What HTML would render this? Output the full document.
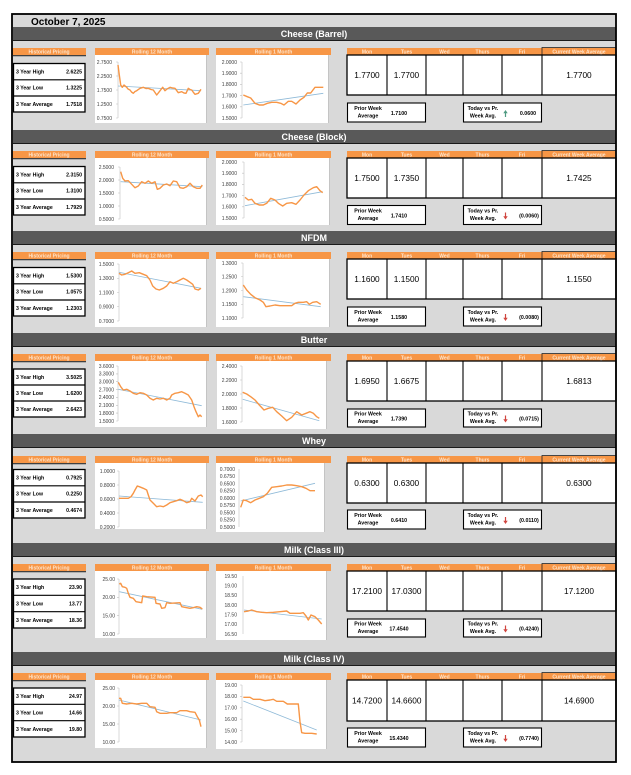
<!DOCTYPE html>
<html><head><meta charset="utf-8"><style>
html,body{margin:0;padding:0;background:#fff;}
svg{display:block;font-family:"Liberation Sans",sans-serif;}
.ttl{font-size:9px;font-weight:bold;fill:#fff;text-anchor:middle;}
.oh{font-size:5px;font-weight:bold;fill:#fde4cc;text-anchor:middle;}
.hl{font-size:5.2px;font-weight:bold;fill:#000;}
.hv{font-size:5.2px;font-weight:bold;fill:#000;text-anchor:end;}
.v{font-size:8.3px;fill:#000;text-anchor:middle;}
.s{font-size:5.3px;font-weight:bold;fill:#000;text-anchor:middle;}
.ax{font-size:5px;fill:#404040;text-anchor:end;}
.o{fill:none;stroke:#f79646;stroke-width:1.4;stroke-linejoin:round;}
.t{fill:none;stroke:#8fbad8;stroke-width:0.8;}
.al{stroke:#bfbfbf;stroke-width:0.6;}
</style></head><body>
<svg width="631" height="775" viewBox="0 0 631 775" xmlns="http://www.w3.org/2000/svg">
<rect x="0" y="0" width="631" height="775" fill="#fff"/>
<rect x="12" y="14" width="604" height="748" fill="#d9d9d9"/>
<text x="31" y="25" font-size="10" font-weight="bold" fill="#000">October 7, 2025</text>

<!-- S1 Cheese Barrel -->
<g transform="translate(0,27)">
<rect x="13" y="0" width="603" height="13" fill="#595959"/><rect x="13" y="13" width="603" height="1" fill="#1a1a1a"/>
<text x="314" y="10" class="ttl">Cheese (Barrel)</text>
<rect x="12" y="21" width="74" height="7" fill="#f79646"/><text x="49" y="26.3" class="oh">Historical Pricing</text>
<rect x="13" y="28.3" width="73" height="0.9" fill="#000"/>
<rect x="13.5" y="36.5" width="71.5" height="48.5" fill="#fff" stroke="#000" stroke-width="1.3"/>
<line x1="13.5" y1="52.8" x2="85" y2="52.8" stroke="#000" stroke-width="1.2"/><line x1="13.5" y1="69" x2="85" y2="69" stroke="#000" stroke-width="1.2"/>
<text x="16" y="46.5" class="hl">3 Year High</text><text x="82" y="46.5" class="hv">2.6225</text>
<text x="16" y="62.7" class="hl">3 Year Low</text><text x="82" y="62.7" class="hv">1.3225</text>
<text x="16" y="78.9" class="hl">3 Year Average</text><text x="82" y="78.9" class="hv">1.7518</text>
<rect x="95" y="21" width="114" height="7" fill="#f79646"/><text x="152" y="26.3" class="oh">Rolling 12 Month</text>
<rect x="95" y="28" width="111" height="68" fill="#fff"/><rect x="206" y="28" width="1" height="68" fill="#c4c4c4"/>
<rect x="216" y="21" width="115" height="7" fill="#f79646"/><text x="273.5" y="26.3" class="oh">Rolling 1 Month</text>
<rect x="216" y="28" width="112" height="68" fill="#fff"/><rect x="328" y="28" width="1" height="68" fill="#c4c4c4"/>
<rect x="347" y="21" width="269" height="7" fill="#f79646"/>
<text x="367" y="26.3" class="oh">Mon</text><text x="406.5" y="26.3" class="oh">Tues</text><text x="444.5" y="26.3" class="oh">Wed</text><text x="482.5" y="26.3" class="oh">Thurs</text><text x="522" y="26.3" class="oh">Fri</text><text x="579" y="26.3" class="oh">Current Week Average</text>
<rect x="542" y="20.5" width="74" height="7.5" fill="none" stroke="#222" stroke-width="0.8"/>
<rect x="347" y="28" width="269" height="40" fill="#fff" stroke="#000" stroke-width="1.3"/>
<path d="M387 28V68M426 28V68M463 28V68M502 28V68M542 28V68" stroke="#000" stroke-width="1.1"/>
<text x="367" y="51" class="v">1.7700</text><text x="406.5" y="51" class="v">1.7700</text><text x="579" y="51" class="v">1.7700</text>
<rect x="347.5" y="76" width="78" height="19" fill="#fff" stroke="#000" stroke-width="1.1"/>
<text x="368" y="82.8" class="s">Prior Week</text><text x="368" y="90.6" class="s">Average</text><text x="399" y="88" class="s">1.7100</text>
<rect x="463.5" y="76" width="78" height="19" fill="#fff" stroke="#000" stroke-width="1.1"/>
<text x="483" y="82.8" class="s">Today vs Pr.</text><text x="483" y="90.6" class="s">Week Avg.</text>
<path d="M503.3 86.3L505.5 83L507.7 86.3H506.1V90H504.9V86.3Z" fill="#4e9a81"/>
<text x="528" y="88" class="s">0.0600</text>
</g>

<!-- S2 Cheese Block -->
<g transform="translate(0,130)">
<rect x="13" y="0" width="603" height="13" fill="#595959"/><rect x="13" y="13" width="603" height="1" fill="#1a1a1a"/>
<text x="314" y="10" class="ttl">Cheese (Block)</text>
<rect x="12" y="21" width="74" height="7" fill="#f79646"/><text x="49" y="26.3" class="oh">Historical Pricing</text>
<rect x="13" y="28.3" width="73" height="0.9" fill="#000"/>
<rect x="13.5" y="36.5" width="71.5" height="48.5" fill="#fff" stroke="#000" stroke-width="1.3"/>
<line x1="13.5" y1="52.8" x2="85" y2="52.8" stroke="#000" stroke-width="1.2"/><line x1="13.5" y1="69" x2="85" y2="69" stroke="#000" stroke-width="1.2"/>
<text x="16" y="46.5" class="hl">3 Year High</text><text x="82" y="46.5" class="hv">2.3150</text>
<text x="16" y="62.7" class="hl">3 Year Low</text><text x="82" y="62.7" class="hv">1.3100</text>
<text x="16" y="78.9" class="hl">3 Year Average</text><text x="82" y="78.9" class="hv">1.7929</text>
<rect x="95" y="21" width="114" height="7" fill="#f79646"/><text x="152" y="26.3" class="oh">Rolling 12 Month</text>
<rect x="95" y="28" width="111" height="67" fill="#fff"/><rect x="206" y="28" width="1" height="67" fill="#c4c4c4"/>
<rect x="216" y="21" width="115" height="7" fill="#f79646"/><text x="273.5" y="26.3" class="oh">Rolling 1 Month</text>
<rect x="216" y="28" width="113" height="67" fill="#fff"/><rect x="329" y="28" width="1" height="67" fill="#c4c4c4"/>
<rect x="347" y="21" width="269" height="7" fill="#f79646"/>
<text x="367" y="26.3" class="oh">Mon</text><text x="406.5" y="26.3" class="oh">Tues</text><text x="444.5" y="26.3" class="oh">Wed</text><text x="482.5" y="26.3" class="oh">Thurs</text><text x="522" y="26.3" class="oh">Fri</text><text x="579" y="26.3" class="oh">Current Week Average</text>
<rect x="542" y="20.5" width="74" height="7.5" fill="none" stroke="#222" stroke-width="0.8"/>
<rect x="347" y="28" width="269" height="40" fill="#fff" stroke="#000" stroke-width="1.3"/>
<path d="M387 28V68M426 28V68M463 28V68M502 28V68M542 28V68" stroke="#000" stroke-width="1.1"/>
<text x="367" y="51" class="v">1.7500</text><text x="406.5" y="51" class="v">1.7350</text><text x="579" y="51" class="v">1.7425</text>
<rect x="347.5" y="75.5" width="78" height="19" fill="#fff" stroke="#000" stroke-width="1.1"/>
<text x="368" y="82.3" class="s">Prior Week</text><text x="368" y="90.1" class="s">Average</text><text x="399" y="87.5" class="s">1.7410</text>
<rect x="463.5" y="75.5" width="78" height="19" fill="#fff" stroke="#000" stroke-width="1.1"/>
<text x="483" y="82.3" class="s">Today vs Pr.</text><text x="483" y="90.1" class="s">Week Avg.</text>
<path d="M504.9 82.5H506.1V86.3H507.7L505.5 89.5L503.3 86.3H504.9Z" fill="#d0453f"/>
<text x="529" y="87.5" class="s">(0.0060)</text>
</g>

<!-- S3 NFDM -->
<g transform="translate(0,231)">
<rect x="13" y="0" width="603" height="13" fill="#595959"/><rect x="13" y="13" width="603" height="1" fill="#1a1a1a"/>
<text x="314" y="10" class="ttl">NFDM</text>
<rect x="12" y="21" width="74" height="7" fill="#f79646"/><text x="49" y="26.3" class="oh">Historical Pricing</text>
<rect x="13" y="28.3" width="73" height="0.9" fill="#000"/>
<rect x="13.5" y="36.5" width="71.5" height="48.5" fill="#fff" stroke="#000" stroke-width="1.3"/>
<line x1="13.5" y1="52.8" x2="85" y2="52.8" stroke="#000" stroke-width="1.2"/><line x1="13.5" y1="69" x2="85" y2="69" stroke="#000" stroke-width="1.2"/>
<text x="16" y="46.5" class="hl">3 Year High</text><text x="82" y="46.5" class="hv">1.5300</text>
<text x="16" y="62.7" class="hl">3 Year Low</text><text x="82" y="62.7" class="hv">1.0575</text>
<text x="16" y="78.9" class="hl">3 Year Average</text><text x="82" y="78.9" class="hv">1.2303</text>
<rect x="95" y="21" width="114" height="7" fill="#f79646"/><text x="152" y="26.3" class="oh">Rolling 12 Month</text>
<rect x="95" y="28" width="111" height="68" fill="#fff"/><rect x="206" y="28" width="1" height="68" fill="#c4c4c4"/>
<rect x="216" y="21" width="115" height="7" fill="#f79646"/><text x="273.5" y="26.3" class="oh">Rolling 1 Month</text>
<rect x="216" y="28" width="113" height="68" fill="#fff"/><rect x="329" y="28" width="1" height="68" fill="#c4c4c4"/>
<rect x="347" y="21" width="269" height="7" fill="#f79646"/>
<text x="367" y="26.3" class="oh">Mon</text><text x="406.5" y="26.3" class="oh">Tues</text><text x="444.5" y="26.3" class="oh">Wed</text><text x="482.5" y="26.3" class="oh">Thurs</text><text x="522" y="26.3" class="oh">Fri</text><text x="579" y="26.3" class="oh">Current Week Average</text>
<rect x="542" y="20.5" width="74" height="7.5" fill="none" stroke="#222" stroke-width="0.8"/>
<rect x="347" y="28" width="269" height="40" fill="#fff" stroke="#000" stroke-width="1.3"/>
<path d="M387 28V68M426 28V68M463 28V68M502 28V68M542 28V68" stroke="#000" stroke-width="1.1"/>
<text x="367" y="51" class="v">1.1600</text><text x="406.5" y="51" class="v">1.1500</text><text x="579" y="51" class="v">1.1550</text>
<rect x="347.5" y="76" width="78" height="19" fill="#fff" stroke="#000" stroke-width="1.1"/>
<text x="368" y="82.8" class="s">Prior Week</text><text x="368" y="90.6" class="s">Average</text><text x="399" y="88" class="s">1.1580</text>
<rect x="463.5" y="76" width="78" height="19" fill="#fff" stroke="#000" stroke-width="1.1"/>
<text x="483" y="82.8" class="s">Today vs Pr.</text><text x="483" y="90.6" class="s">Week Avg.</text>
<path d="M504.9 83H506.1V86.8H507.7L505.5 90L503.3 86.8H504.9Z" fill="#d0453f"/>
<text x="529" y="88" class="s">(0.0080)</text>
</g>

<!-- S4 Butter -->
<g transform="translate(0,333)">
<rect x="13" y="0" width="603" height="13" fill="#595959"/><rect x="13" y="13" width="603" height="1" fill="#1a1a1a"/>
<text x="314" y="10" class="ttl">Butter</text>
<rect x="12" y="21" width="74" height="7" fill="#f79646"/><text x="49" y="26.3" class="oh">Historical Pricing</text>
<rect x="13" y="28.3" width="73" height="0.9" fill="#000"/>
<rect x="13.5" y="36" width="71.5" height="48" fill="#fff" stroke="#000" stroke-width="1.3"/>
<line x1="13.5" y1="52" x2="85" y2="52" stroke="#000" stroke-width="1.2"/><line x1="13.5" y1="68" x2="85" y2="68" stroke="#000" stroke-width="1.2"/>
<text x="16" y="45.8" class="hl">3 Year High</text><text x="82" y="45.8" class="hv">3.5025</text>
<text x="16" y="61.8" class="hl">3 Year Low</text><text x="82" y="61.8" class="hv">1.6200</text>
<text x="16" y="77.8" class="hl">3 Year Average</text><text x="82" y="77.8" class="hv">2.6423</text>
<rect x="95" y="21" width="114" height="7" fill="#f79646"/><text x="152" y="26.3" class="oh">Rolling 12 Month</text>
<rect x="95" y="28" width="111" height="66" fill="#fff"/><rect x="206" y="28" width="1" height="66" fill="#c4c4c4"/>
<rect x="216" y="21" width="115" height="7" fill="#f79646"/><text x="273.5" y="26.3" class="oh">Rolling 1 Month</text>
<rect x="217" y="28" width="109" height="68" fill="#fff"/><rect x="326" y="28" width="1" height="68" fill="#c4c4c4"/>
<rect x="347" y="21" width="269" height="7" fill="#f79646"/>
<text x="367" y="26.3" class="oh">Mon</text><text x="406.5" y="26.3" class="oh">Tues</text><text x="444.5" y="26.3" class="oh">Wed</text><text x="482.5" y="26.3" class="oh">Thurs</text><text x="522" y="26.3" class="oh">Fri</text><text x="579" y="26.3" class="oh">Current Week Average</text>
<rect x="542" y="20.5" width="74" height="7.5" fill="none" stroke="#222" stroke-width="0.8"/>
<rect x="347" y="28" width="269" height="40" fill="#fff" stroke="#000" stroke-width="1.3"/>
<path d="M387 28V68M426 28V68M463 28V68M502 28V68M542 28V68" stroke="#000" stroke-width="1.1"/>
<text x="367" y="51" class="v">1.6950</text><text x="406.5" y="51" class="v">1.6675</text><text x="579" y="51" class="v">1.6813</text>
<rect x="347.5" y="76" width="78" height="18" fill="#fff" stroke="#000" stroke-width="1.1"/>
<text x="368" y="82.5" class="s">Prior Week</text><text x="368" y="90" class="s">Average</text><text x="399" y="87.5" class="s">1.7390</text>
<rect x="463.5" y="76" width="78" height="18" fill="#fff" stroke="#000" stroke-width="1.1"/>
<text x="483" y="82.5" class="s">Today vs Pr.</text><text x="483" y="90" class="s">Week Avg.</text>
<path d="M504.9 82.5H506.1V86.3H507.7L505.5 89.5L503.3 86.3H504.9Z" fill="#d0453f"/>
<text x="529" y="87.5" class="s">(0.0715)</text>
</g>

<!-- S5 Whey -->
<g transform="translate(0,434)">
<rect x="13" y="0" width="603" height="13" fill="#595959"/><rect x="13" y="13" width="603" height="1" fill="#1a1a1a"/>
<text x="314" y="10" class="ttl">Whey</text>
<rect x="12" y="22" width="74" height="7" fill="#f79646"/><text x="49" y="27.3" class="oh">Historical Pricing</text>
<rect x="13" y="29.3" width="73" height="0.9" fill="#000"/>
<rect x="13.5" y="35.5" width="71.5" height="48.5" fill="#fff" stroke="#000" stroke-width="1.3"/>
<line x1="13.5" y1="51.8" x2="85" y2="51.8" stroke="#000" stroke-width="1.2"/><line x1="13.5" y1="68" x2="85" y2="68" stroke="#000" stroke-width="1.2"/>
<text x="16" y="45.5" class="hl">3 Year High</text><text x="82" y="45.5" class="hv">0.7925</text>
<text x="16" y="61.7" class="hl">3 Year Low</text><text x="82" y="61.7" class="hv">0.2250</text>
<text x="16" y="77.9" class="hl">3 Year Average</text><text x="82" y="77.9" class="hv">0.4674</text>
<rect x="95" y="22" width="114" height="7" fill="#f79646"/><text x="152" y="27.3" class="oh">Rolling 12 Month</text>
<rect x="95" y="29" width="111" height="66" fill="#fff"/><rect x="206" y="29" width="1" height="66" fill="#c4c4c4"/>
<rect x="216" y="22" width="115" height="7" fill="#f79646"/><text x="273.5" y="27.3" class="oh">Rolling 1 Month</text>
<rect x="216" y="29" width="108" height="69" fill="#fff"/><rect x="324" y="29" width="1" height="69" fill="#c4c4c4"/>
<rect x="347" y="22" width="269" height="7" fill="#f79646"/>
<text x="367" y="27.3" class="oh">Mon</text><text x="406.5" y="27.3" class="oh">Tues</text><text x="444.5" y="27.3" class="oh">Wed</text><text x="482.5" y="27.3" class="oh">Thurs</text><text x="522" y="27.3" class="oh">Fri</text><text x="579" y="27.3" class="oh">Current Week Average</text>
<rect x="542" y="21.5" width="74" height="7.5" fill="none" stroke="#222" stroke-width="0.8"/>
<rect x="347" y="29" width="269" height="40" fill="#fff" stroke="#000" stroke-width="1.3"/>
<path d="M387 29V69M426 29V69M463 29V69M502 29V69M542 29V69" stroke="#000" stroke-width="1.1"/>
<text x="367" y="52" class="v">0.6300</text><text x="406.5" y="52" class="v">0.6300</text><text x="579" y="52" class="v">0.6300</text>
<rect x="347.5" y="76" width="78" height="19" fill="#fff" stroke="#000" stroke-width="1.1"/>
<text x="368" y="82.8" class="s">Prior Week</text><text x="368" y="90.6" class="s">Average</text><text x="399" y="88" class="s">0.6410</text>
<rect x="463.5" y="76" width="78" height="19" fill="#fff" stroke="#000" stroke-width="1.1"/>
<text x="483" y="82.8" class="s">Today vs Pr.</text><text x="483" y="90.6" class="s">Week Avg.</text>
<path d="M504.9 83H506.1V86.8H507.7L505.5 90L503.3 86.8H504.9Z" fill="#d0453f"/>
<text x="529" y="88" class="s">(0.0110)</text>
</g>

<!-- S6 Milk III -->
<g transform="translate(0,543)">
<rect x="13" y="0" width="603" height="13" fill="#595959"/><rect x="13" y="13" width="603" height="1" fill="#1a1a1a"/>
<text x="314" y="10" class="ttl">Milk (Class III)</text>
<rect x="12" y="21" width="74" height="7" fill="#f79646"/><text x="49" y="26.3" class="oh">Historical Pricing</text>
<rect x="13" y="28.3" width="73" height="0.9" fill="#000"/>
<rect x="13.5" y="36" width="71.5" height="49" fill="#fff" stroke="#000" stroke-width="1.3"/>
<line x1="13.5" y1="52.3" x2="85" y2="52.3" stroke="#000" stroke-width="1.2"/><line x1="13.5" y1="68.7" x2="85" y2="68.7" stroke="#000" stroke-width="1.2"/>
<text x="16" y="46" class="hl">3 Year High</text><text x="82" y="46" class="hv">23.90</text>
<text x="16" y="62.4" class="hl">3 Year Low</text><text x="82" y="62.4" class="hv">13.77</text>
<text x="16" y="78.8" class="hl">3 Year Average</text><text x="82" y="78.8" class="hv">18.36</text>
<rect x="95" y="21" width="114" height="7" fill="#f79646"/><text x="152" y="26.3" class="oh">Rolling 12 Month</text>
<rect x="95" y="28" width="111" height="67" fill="#fff"/><rect x="206" y="28" width="1" height="67" fill="#c4c4c4"/>
<rect x="216" y="21" width="115" height="7" fill="#f79646"/><text x="273.5" y="26.3" class="oh">Rolling 1 Month</text>
<rect x="216" y="28" width="110" height="69" fill="#fff"/><rect x="326" y="28" width="1" height="69" fill="#c4c4c4"/>
<rect x="347" y="21" width="269" height="7" fill="#f79646"/>
<text x="367" y="26.3" class="oh">Mon</text><text x="406.5" y="26.3" class="oh">Tues</text><text x="444.5" y="26.3" class="oh">Wed</text><text x="482.5" y="26.3" class="oh">Thurs</text><text x="522" y="26.3" class="oh">Fri</text><text x="579" y="26.3" class="oh">Current Week Average</text>
<rect x="542" y="20.5" width="74" height="7.5" fill="none" stroke="#222" stroke-width="0.8"/>
<rect x="347" y="28" width="269" height="40" fill="#fff" stroke="#000" stroke-width="1.3"/>
<path d="M387 28V68M426 28V68M463 28V68M502 28V68M542 28V68" stroke="#000" stroke-width="1.1"/>
<text x="367" y="51" class="v">17.2100</text><text x="406.5" y="51" class="v">17.0300</text><text x="579" y="51" class="v">17.1200</text>
<rect x="347.5" y="76" width="78" height="18" fill="#fff" stroke="#000" stroke-width="1.1"/>
<text x="368" y="82.5" class="s">Prior Week</text><text x="368" y="90" class="s">Average</text><text x="399" y="87.5" class="s">17.4540</text>
<rect x="463.5" y="76" width="78" height="18" fill="#fff" stroke="#000" stroke-width="1.1"/>
<text x="483" y="82.5" class="s">Today vs Pr.</text><text x="483" y="90" class="s">Week Avg.</text>
<path d="M504.9 82.5H506.1V86.3H507.7L505.5 89.5L503.3 86.3H504.9Z" fill="#d0453f"/>
<text x="529" y="87.5" class="s">(0.4240)</text>
</g>

<!-- S7 Milk IV -->
<g transform="translate(0,652)">
<rect x="13" y="0" width="603" height="13" fill="#595959"/><rect x="13" y="13" width="603" height="1" fill="#1a1a1a"/>
<text x="314" y="10" class="ttl">Milk (Class IV)</text>
<rect x="12" y="21" width="74" height="7" fill="#f79646"/><text x="49" y="26.3" class="oh">Historical Pricing</text>
<rect x="13" y="28.3" width="73" height="0.9" fill="#000"/>
<rect x="13.5" y="36" width="71.5" height="49" fill="#fff" stroke="#000" stroke-width="1.3"/>
<line x1="13.5" y1="52.3" x2="85" y2="52.3" stroke="#000" stroke-width="1.2"/><line x1="13.5" y1="68.7" x2="85" y2="68.7" stroke="#000" stroke-width="1.2"/>
<text x="16" y="46" class="hl">3 Year High</text><text x="82" y="46" class="hv">24.97</text>
<text x="16" y="62.4" class="hl">3 Year Low</text><text x="82" y="62.4" class="hv">14.66</text>
<text x="16" y="78.8" class="hl">3 Year Average</text><text x="82" y="78.8" class="hv">19.80</text>
<rect x="95" y="21" width="114" height="7" fill="#f79646"/><text x="152" y="26.3" class="oh">Rolling 12 Month</text>
<rect x="95" y="28" width="111" height="68" fill="#fff"/><rect x="206" y="28" width="1" height="68" fill="#c4c4c4"/>
<rect x="216" y="21" width="115" height="7" fill="#f79646"/><text x="273.5" y="26.3" class="oh">Rolling 1 Month</text>
<rect x="216" y="28" width="110" height="69" fill="#fff"/><rect x="326" y="28" width="1" height="69" fill="#c4c4c4"/>
<rect x="347" y="21" width="269" height="7" fill="#f79646"/>
<text x="367" y="26.3" class="oh">Mon</text><text x="406.5" y="26.3" class="oh">Tues</text><text x="444.5" y="26.3" class="oh">Wed</text><text x="482.5" y="26.3" class="oh">Thurs</text><text x="522" y="26.3" class="oh">Fri</text><text x="579" y="26.3" class="oh">Current Week Average</text>
<rect x="542" y="20.5" width="74" height="7.5" fill="none" stroke="#222" stroke-width="0.8"/>
<rect x="347" y="28" width="269" height="41" fill="#fff" stroke="#000" stroke-width="1.3"/>
<path d="M387 28V69M426 28V69M463 28V69M502 28V69M542 28V69" stroke="#000" stroke-width="1.1"/>
<text x="367" y="51.5" class="v">14.7200</text><text x="406.5" y="51.5" class="v">14.6600</text><text x="579" y="51.5" class="v">14.6900</text>
<rect x="347.5" y="76" width="78" height="19" fill="#fff" stroke="#000" stroke-width="1.1"/>
<text x="368" y="82.8" class="s">Prior Week</text><text x="368" y="90.6" class="s">Average</text><text x="399" y="88" class="s">15.4340</text>
<rect x="463.5" y="76" width="78" height="19" fill="#fff" stroke="#000" stroke-width="1.1"/>
<text x="483" y="82.8" class="s">Today vs Pr.</text><text x="483" y="90.6" class="s">Week Avg.</text>
<path d="M504.9 83H506.1V86.8H507.7L505.5 90L503.3 86.8H504.9Z" fill="#d0453f"/>
<text x="529" y="88" class="s">(0.7740)</text>
</g>

<!-- S1 12M -->
<line x1="118" y1="62" x2="118" y2="118" class="al"/>
<path d="M116 62H118M116 76H118M116 90H118M116 104H118M116 118H118" class="al"/>
<text x="112" y="63.8" class="ax">2.7500</text><text x="112" y="77.8" class="ax">2.2500</text><text x="112" y="91.8" class="ax">1.7500</text><text x="112" y="105.8" class="ax">1.2500</text><text x="112" y="119.8" class="ax">0.7500</text>
<polyline class="t" points="118,86 201,90.7"/>
<polyline class="o" points="118,65 119.3,75 120.7,85 122.3,87.3 124,85 126.7,87.3 128,89 130,90 131.5,92 133.3,93.3 135,91.5 136.7,90.7 140,88.3 143.3,87.3 146,88.5 148.3,88.3 151,89.5 153.3,90 155,92.5 156.7,95 159.3,91.7 161,89.5 162.7,87.3 165,90.7 167,89 170,87.3 172.5,88 175,88.3 178.3,92.7 181.7,91.7 184,93 186,93.3 188.3,88.3 190,89.5 191.7,90 193.5,92.5 195,94.3 198.3,93.3 201,89.3"/>
<!-- S1 1M -->
<line x1="242" y1="62" x2="242" y2="118" class="al"/>
<path d="M240 62H242M240 73.2H242M240 84.4H242M240 95.6H242M240 106.8H242M240 118H242" class="al"/>
<text x="237" y="63.8" class="ax">2.0000</text><text x="237" y="75" class="ax">1.9000</text><text x="237" y="86.2" class="ax">1.8000</text><text x="237" y="97.4" class="ax">1.7000</text><text x="237" y="108.6" class="ax">1.6000</text><text x="237" y="119.8" class="ax">1.5000</text>
<polyline class="t" points="243.3,105 323.3,93.3"/>
<polyline class="o" points="243.3,95 247.3,96.7 250.7,98 255,103.3 259.3,105 263.3,105 267.3,103.3 271.7,102.3 276.7,102.3 280.7,103.3 284,105 288.3,101.3 291.7,101.3 296,104 300,100 304,97.3 307.3,93 310.7,93 315,87.3 319.3,87.3 323.3,87.3"/>

<!-- S2 12M -->
<line x1="120" y1="167" x2="120" y2="219" class="al"/>
<path d="M118 167H120M118 180H120M118 193H120M118 206H120M118 219H120" class="al"/>
<text x="114" y="168.8" class="ax">2.5000</text><text x="114" y="181.8" class="ax">2.0000</text><text x="114" y="194.8" class="ax">1.5000</text><text x="114" y="207.8" class="ax">1.0000</text><text x="114" y="220.8" class="ax">0.5000</text>
<polyline class="t" points="120.7,181.7 202.3,186.7"/>
<polyline class="o" points="120.7,171.7 122.7,178.3 125,181 128.3,180.7 131.7,184.3 135,187.7 138.3,186 141.7,181.7 145,183.3 148.3,181 151.7,183.3 155,181.7 157.3,189.3 160,188.3 163.3,185 166.7,184 170,185.7 173.3,181 176.7,181.7 180,187.7 183.3,188.3 186.7,186.7 190,183.3 193.3,186.7 196.7,188.3 200,188.3 202.3,185"/>
<!-- S2 1M -->
<line x1="244" y1="162" x2="244" y2="218" class="al"/>
<path d="M242 162H244M242 173.2H244M242 184.4H244M242 195.6H244M242 206.8H244M242 218H244" class="al"/>
<text x="237" y="163.8" class="ax">2.0000</text><text x="237" y="175" class="ax">1.9000</text><text x="237" y="186.2" class="ax">1.8000</text><text x="237" y="197.4" class="ax">1.7000</text><text x="237" y="208.6" class="ax">1.6000</text><text x="237" y="219.8" class="ax">1.5000</text>
<polyline class="t" points="245,205.7 322.7,191.7"/>
<polyline class="o" points="245,197.3 248.3,200 251.7,199.3 255,203.3 259.3,205 263.3,205 266.7,203.3 270.7,198.3 275,200 278.3,203.3 282.7,206 286.7,203.3 291.7,202.7 296,204.3 300,200 304,195 308.3,190.7 313.3,187.7 316.7,186.7 320,190.7 322.7,192.7"/>

<!-- S3 12M -->
<line x1="119" y1="264" x2="119" y2="321" class="al"/>
<path d="M117 264H119M117 278.25H119M117 292.5H119M117 306.75H119M117 321H119" class="al"/>
<text x="114" y="265.8" class="ax">1.5000</text><text x="114" y="280" class="ax">1.3000</text><text x="114" y="294.3" class="ax">1.1000</text><text x="114" y="308.5" class="ax">0.9000</text><text x="114" y="322.8" class="ax">0.7000</text>
<polyline class="t" points="119,272.3 201,288.3"/>
<polyline class="o" points="119,273.3 121.7,275 125,274.3 128.3,272.7 131.7,271 135,273.3 139.3,272.7 143.3,274.3 146.7,275.7 150,280 152.7,286 156,289 159.3,290 163.3,288.3 166.7,286 170,281.7 173.3,283.3 176.7,281.7 180,280 183.3,278.3 186.7,280 190,282.3 192.7,284.3 195,289 198.3,290 201,288.3"/>
<!-- S3 1M -->
<line x1="243" y1="263" x2="243" y2="318" class="al"/>
<path d="M241 263H243M241 276.75H243M241 290.5H243M241 304.25H243M241 318H243" class="al"/>
<text x="237" y="264.8" class="ax">1.3000</text><text x="237" y="278.5" class="ax">1.2500</text><text x="237" y="292.3" class="ax">1.2000</text><text x="237" y="306" class="ax">1.1500</text><text x="237" y="319.8" class="ax">1.1000</text>
<polyline class="t" points="243.3,296.7 320.7,306.7"/>
<polyline class="o" points="243.3,285 246.7,290 250.7,294.3 255,297.7 260,300 263.3,302.3 266,306.7 270,306 275,305 280,305.7 286.7,305.7 291.7,305.7 295,303.3 298.3,302.3 303.3,302.3 306.7,301.7 309.3,304.3 312.7,302.3 316.7,301.7 320.7,304.3"/>

<!-- S4 12M -->
<line x1="118" y1="366" x2="118" y2="421" class="al"/>
<path d="M116 366H118M116 373.9H118M116 381.7H118M116 389.6H118M116 397.4H118M116 405.3H118M116 413.1H118M116 421H118" class="al"/>
<text x="114" y="367.8" class="ax">3.6000</text><text x="114" y="375.7" class="ax">3.3000</text><text x="114" y="383.5" class="ax">3.0000</text><text x="114" y="391.4" class="ax">2.7000</text><text x="114" y="399.2" class="ax">2.4000</text><text x="114" y="407.1" class="ax">2.1000</text><text x="114" y="414.9" class="ax">1.8000</text><text x="114" y="422.8" class="ax">1.5000</text>
<polyline class="t" points="118.3,389.3 201.7,405.7"/>
<polyline class="o" points="118.3,382.3 120.7,386.7 123.3,390 126.7,389.3 130,391 133.3,393.3 136.7,394.3 140,392.7 143.3,393.3 146.7,395 150,398.3 153.3,400 156.7,398.3 160,399 163.3,398.3 166.7,400 170,398.3 171.7,395 175,393.3 178.3,392.7 181.7,391.7 185,393.3 188.3,395 191.7,400 194,406.7 196,411.7 198.3,416.7 200,415 201.7,416.7"/>
<!-- S4 1M -->
<line x1="242" y1="366" x2="242" y2="422" class="al"/>
<path d="M240 366H242M240 380H242M240 394H242M240 408H242M240 422H242" class="al"/>
<text x="237" y="367.8" class="ax">2.4000</text><text x="237" y="381.8" class="ax">2.2000</text><text x="237" y="395.8" class="ax">2.0000</text><text x="237" y="409.8" class="ax">1.8000</text><text x="237" y="423.8" class="ax">1.6000</text>
<polyline class="t" points="242.7,399.3 319.3,420.7"/>
<polyline class="o" points="242.7,392.3 246.7,394 250.7,396.7 255,400 259.3,405 264,410 268.3,408.3 272.7,407.3 276.7,411.7 281.7,416 286.7,420.7 291.7,417.3 296.7,411.7 301.7,415 306,413.3 310,411.7 313.3,413.3 316.7,416.7 319.3,418.3"/>

<!-- S5 12M -->
<line x1="119" y1="471" x2="119" y2="527" class="al"/>
<path d="M117 471H119M117 485H119M117 499H119M117 513H119M117 527H119" class="al"/>
<text x="115" y="472.8" class="ax">1.0000</text><text x="115" y="486.8" class="ax">0.8000</text><text x="115" y="500.8" class="ax">0.6000</text><text x="115" y="514.8" class="ax">0.4000</text><text x="115" y="528.8" class="ax">0.2000</text>
<polyline class="t" points="119,496 202.7,502.3"/>
<polyline class="o" points="119,498.3 123.3,498.3 128.3,498.3 131,496.7 133.3,493.3 135,490 137.3,486 139.3,486.7 143.3,488.3 146.7,490 148.3,495 150,500 153.3,503.3 156.7,506.7 160,506 163.3,506.7 166.7,505 170,502.7 173.3,501.7 176.7,500.7 180,499.3 183.3,500.7 186.7,502.7 190,501.7 191.7,498.3 195,501 198.3,496 201,495 202.7,496.7"/>
<!-- S5 1M -->
<line x1="239" y1="469" x2="239" y2="527" class="al"/>
<text x="235" y="470.8" class="ax">0.7000</text><text x="235" y="478" class="ax">0.6750</text><text x="235" y="485.3" class="ax">0.6500</text><text x="235" y="492.5" class="ax">0.6250</text><text x="235" y="499.8" class="ax">0.6000</text><text x="235" y="507" class="ax">0.5750</text><text x="235" y="514.3" class="ax">0.5500</text><text x="235" y="521.5" class="ax">0.5250</text><text x="235" y="528.8" class="ax">0.5000</text>
<polyline class="t" points="240.7,501 315,483.3"/>
<polyline class="o" points="240.7,507.3 243.3,500 246.7,500.7 250.7,502.7 255,500 259.3,498.3 263.3,496.7 267.3,493.3 271.7,487.3 276.7,486.7 281.7,486 286.7,485 291.7,485 296.7,485.7 301.7,486.7 306,488.3 310,490.7 315,490.7"/>

<!-- S6 12M -->
<line x1="119" y1="579" x2="119" y2="634" class="al"/>
<path d="M117 579H119M117 597.3H119M117 615.7H119M117 634H119" class="al"/>
<text x="115" y="580.8" class="ax">25.00</text><text x="115" y="599.1" class="ax">20.00</text><text x="115" y="617.5" class="ax">15.00</text><text x="115" y="635.8" class="ax">10.00</text>
<polyline class="t" points="119.3,591.7 202.3,609.3"/>
<polyline class="o" points="119.3,584 120.7,583.3 122.3,586.7 125,587.3 126.7,588.3 128.3,593.3 130,597.3 133.3,598.3 136,601.7 141.7,602.7 142.7,596 146.7,596.7 155,597.3 156,603.3 160,604 161.7,608.3 165,607.7 166.7,602.7 170,603.3 180,602.7 181.7,606.7 186.7,607.7 190,608.3 193.3,607.7 196.7,606.7 200,607.3 202.3,609"/>
<!-- S6 1M -->
<line x1="243" y1="576" x2="243" y2="634" class="al"/>
<text x="237" y="577.8" class="ax">19.50</text><text x="237" y="587.5" class="ax">19.00</text><text x="237" y="597.1" class="ax">18.50</text><text x="237" y="606.8" class="ax">18.00</text><text x="237" y="616.5" class="ax">17.50</text><text x="237" y="626.1" class="ax">17.00</text><text x="237" y="635.8" class="ax">16.50</text>
<polyline class="t" points="244,610 321.7,619"/>
<polyline class="o" points="244,611.7 248.3,611 251.7,610 256.7,611.7 261.7,612.3 266.7,612.7 273.3,612.3 280,611.7 286.7,611 290,613.3 295,613.3 300,613.3 303.3,612.7 306,616 308.3,620 311,615 315,616.7 318.3,620 321.7,624"/>

<!-- S7 12M -->
<line x1="119" y1="688" x2="119" y2="742" class="al"/>
<path d="M117 688H119M117 706H119M117 724H119M117 742H119" class="al"/>
<text x="115" y="689.8" class="ax">25.00</text><text x="115" y="707.8" class="ax">20.00</text><text x="115" y="725.8" class="ax">15.00</text><text x="115" y="743.8" class="ax">10.00</text>
<polyline class="t" points="119,700 201,720"/>
<polyline class="o" points="119,698.3 120.7,698.3 122.3,703.3 126.7,704 131.7,703.3 136.7,704 141.7,703.3 146.7,703.3 150,706.7 155,707.3 156.7,711.7 160,713.3 166.7,713.3 170,712.7 176.7,712.7 180,710.7 186.7,710.7 190,711.7 195,712.3 197.3,716.7 199.3,720 201,726.7"/>
<!-- S7 1M -->
<line x1="242" y1="685" x2="242" y2="742" class="al"/>
<path d="M240 685H242M240 696.4H242M240 707.8H242M240 719.2H242M240 730.6H242M240 742H242" class="al"/>
<text x="237" y="686.8" class="ax">19.00</text><text x="237" y="698.2" class="ax">18.00</text><text x="237" y="709.6" class="ax">17.00</text><text x="237" y="721" class="ax">16.00</text><text x="237" y="732.4" class="ax">15.00</text><text x="237" y="743.8" class="ax">14.00</text>
<polyline class="t" points="243.3,701 316.7,730"/>
<polyline class="o" points="243.3,697.3 250,697.3 253.3,699.3 260,699.3 265,700.7 270,700 273.3,699.3 276.7,701.3 283.3,701.3 287.3,704 293.3,704 298.3,704 300,721.7 301.7,732.7 305,733.3 311.7,733.3 316.7,734"/>

<rect x="12" y="14" width="604" height="748" fill="none" stroke="#000" stroke-width="1.8"/>
</svg>
</body></html>
